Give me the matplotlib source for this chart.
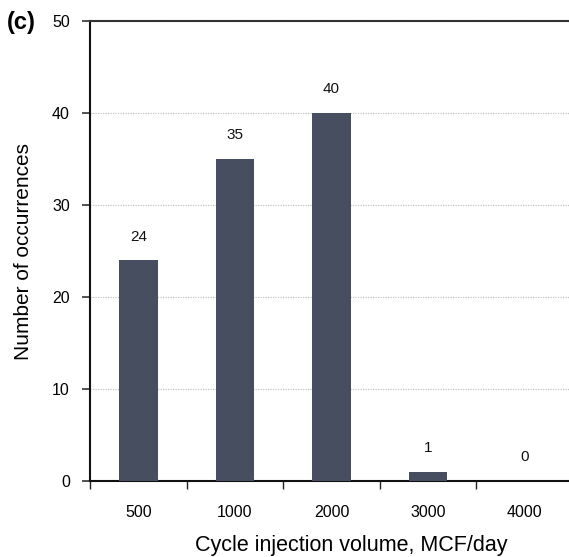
import matplotlib.pyplot as plt

plt.rcParams['font.family'] = ['Liberation Sans', 'DejaVu Sans']

categories = ['500', '1000', '2000', '3000', '4000']
occurrences = [24, 35, 40, 1, 0]

BAR_COLOR = '#464e60'

fig = plt.figure(figsize=(5.69, 5.57), dpi=100)
ax = fig.add_axes([90 / 569, 76 / 557, 483 / 569, 460 / 557])

x = range(len(categories))
ax.bar(x, occurrences, width=0.4, color=BAR_COLOR, zorder=3)
for xi, v in zip(x, occurrences):
    ax.annotate(str(v), (xi, v), xytext=(0, 12), textcoords='offset points',
                ha='center', va='bottom', fontsize=11, color='#111111')

ax.set_xlim(-0.5, len(categories) - 0.5)
ax.set_ylim(0, 50)
ax.set_yticks(range(0, 51, 10))
ax.yaxis.grid(True, linestyle=(0, (1, 1)), color='#c4c4c4', linewidth=0.9, zorder=0)

# boundary ticks between categories, labels centred under bars
ax.set_xticks([i + 0.5 for i in range(-1, len(categories))])
ax.set_xticklabels([])
ax.set_xticks(list(x), minor=True)
ax.set_xticklabels(categories, minor=True)
ax.tick_params(axis='x', which='major', direction='out', length=6, width=1, color='#222222')
ax.tick_params(axis='x', which='minor', length=0, pad=17, labelsize=11.5)
ax.tick_params(axis='y', direction='out', length=5.5, width=1.2, color='#333333',
               labelsize=11.5, pad=9)

ax.spines['right'].set_visible(False)
ax.spines['top'].set_color('#333333')
ax.spines['top'].set_linewidth(1.5)
ax.spines['left'].set_linewidth(1.5)
ax.spines['left'].set_color('#111111')
ax.spines['bottom'].set_linewidth(1.5)
ax.spines['bottom'].set_color('#111111')

ax.set_xlabel('Cycle injection volume, MCF/day', fontsize=15.5)
ax.xaxis.set_label_coords(0.54, -0.117)
ax.set_ylabel('Number of occurrences', fontsize=15, labelpad=14)

fig.text(7 / 569, 1 - 22 / 557, '(c)', fontsize=17, fontweight='bold', va='center', ha='left')

fig.savefig('out.png', dpi=100)
